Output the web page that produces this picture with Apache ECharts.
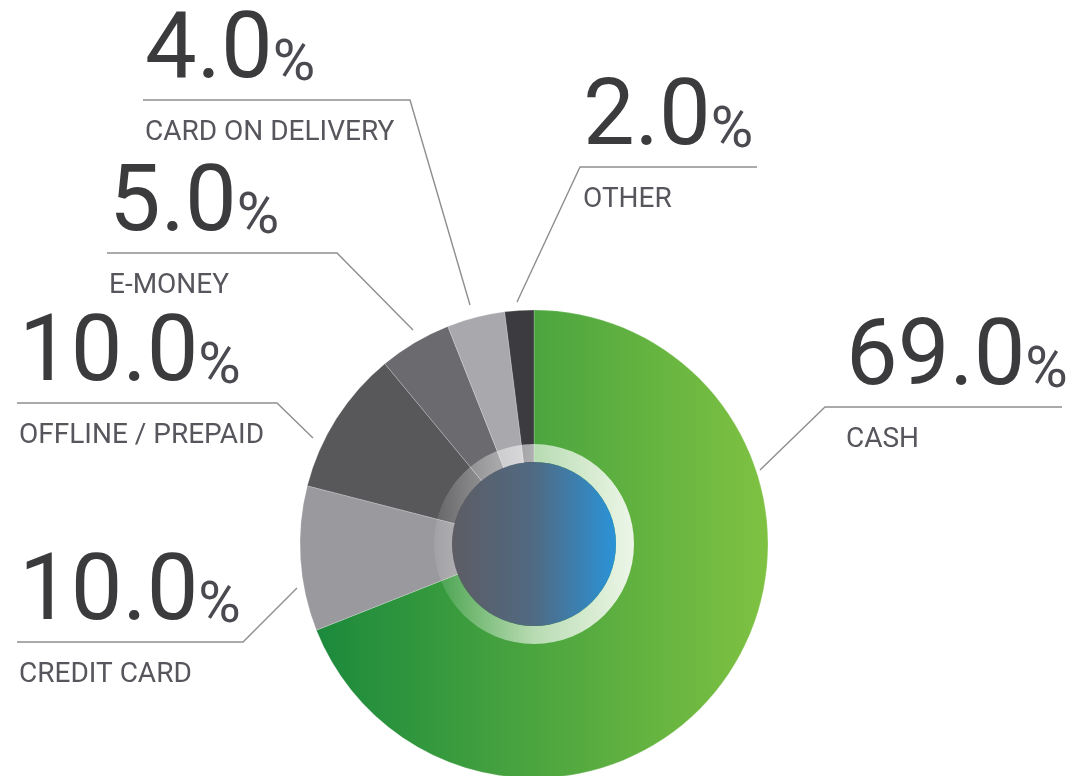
<!DOCTYPE html>
<html>
<head>
<meta charset="utf-8">
<script src="https://cdn.jsdelivr.net/npm/echarts@6/dist/echarts.min.js"></script>
<style>
html, body { margin: 0; padding: 0; background: #fff; }
#pie-chart { width: 1068px; height: 776px; }
</style>
</head>
<body>
<div id="pie-chart"></div>
<script>
// data
const categories = ['CASH', 'CREDIT CARD', 'OFFLINE / PREPAID', 'E-MONEY', 'CARD ON DELIVERY', 'OTHER'];
const shares = [69.0, 10.0, 10.0, 5.0, 4.0, 2.0];

// label placement (leader tip, rule line, text start)
const labelTips = [[760, 470], [297, 588], [313, 438], [413, 330], [470, 305], [517, 302]];
const ruleY = [407, 642, 403, 253, 100, 167];
const ruleX = [[825, 1062], [17, 243], [17, 277], [107, 337], [143, 410], [580, 757]];
const textX = [846, 19, 19, 109, 145, 583];

const sliceColors = [
    new echarts.graphic.LinearGradient(0, 0, 1, 0, [
        { offset: 0, color: '#1b8a3c' },
        { offset: 1, color: '#7fc242' }
    ]),
    '#9a9a9e',
    '#58585b',
    '#6b6b6f',
    '#a9a9ad',
    '#3c3c40'
];

const center = [534, 544];
const echart = echarts.init(document.getElementById('pie-chart'));

// number line box; the % sits on the same baseline as the digits
const numSize = 92;
const pctSize = 58;
const numLine = 112;
const pctBox = 2 * (numLine / 2 - 0.342 * (numSize - pctSize));

const option = {
    animation: false,
    series: [
        {
            name: 'share',
            type: 'pie',
            center,
            radius: [0, 234],
            startAngle: 90,
            clockwise: true,
            avoidLabelOverlap: false,
            emphasis: { disabled: true },
            itemStyle: {
                borderWidth: 0.8,
                borderColor: 'rgba(255,255,255,0.25)'
            },
            data: categories.map((name, i) => ({
                name,
                value: shares[i],
                itemStyle: { color: sliceColors[i] }
            })),
            label: {
                show: true,
                position: 'outside',
                fontFamily: 'Roboto',
                formatter: p => '{v|' + p.value.toFixed(1) + '}{p|%}\n{n|' + p.name + '}',
                rich: {
                    v: {
                        fontFamily: 'Roboto',
                        fontSize: numSize,
                        lineHeight: numLine,
                        color: '#3b3b3d'
                    },
                    p: {
                        fontFamily: 'Roboto',
                        fontSize: pctSize,
                        lineHeight: pctBox,
                        height: pctBox,
                        verticalAlign: 'bottom',
                        color: '#4a4a50'
                    },
                    n: {
                        fontFamily: 'Roboto',
                        fontSize: 28,
                        lineHeight: 46,
                        color: '#56565c'
                    }
                }
            },
            labelLine: {
                show: true,
                lineStyle: { color: '#8e8e8e', width: 1.4 }
            },
            labelLayout: params => {
                const i = params.dataIndex;
                const left = ruleX[i][0] < center[0];
                const elbow = left ? ruleX[i][1] : ruleX[i][0];
                const end = left ? ruleX[i][0] : ruleX[i][1];
                return {
                    x: textX[i],
                    y: ruleY[i] - 102,
                    align: 'left',
                    verticalAlign: 'top',
                    labelLinePoints: [labelTips[i], [elbow, ruleY[i]], [end, ruleY[i]]]
                };
            }
        },
        {
            // light ring round the hub
            name: 'ring',
            type: 'pie',
            center,
            radius: [82, 100],
            silent: true,
            label: { show: false },
            labelLine: { show: false },
            itemStyle: {
                color: new echarts.graphic.LinearGradient(0, 0, 1, 0, [
                    { offset: 0, color: 'rgba(255,255,255,0.08)' },
                    { offset: 0.5, color: 'rgba(255,255,255,0.6)' },
                    { offset: 1, color: 'rgba(255,255,255,0.88)' }
                ])
            },
            data: [{ value: 1 }]
        },
        {
            name: 'hub',
            type: 'pie',
            center,
            radius: [0, 82],
            silent: true,
            label: { show: false },
            labelLine: { show: false },
            itemStyle: {
                color: new echarts.graphic.LinearGradient(0, 0, 1, 0, [
                    { offset: 0, color: '#5d5c64' },
                    { offset: 0.5, color: '#506a82' },
                    { offset: 1, color: '#2a93d8' }
                ])
            },
            data: [{ value: 1 }]
        }
    ]
};
echart.setOption(option);
</script>
</body>
</html>
